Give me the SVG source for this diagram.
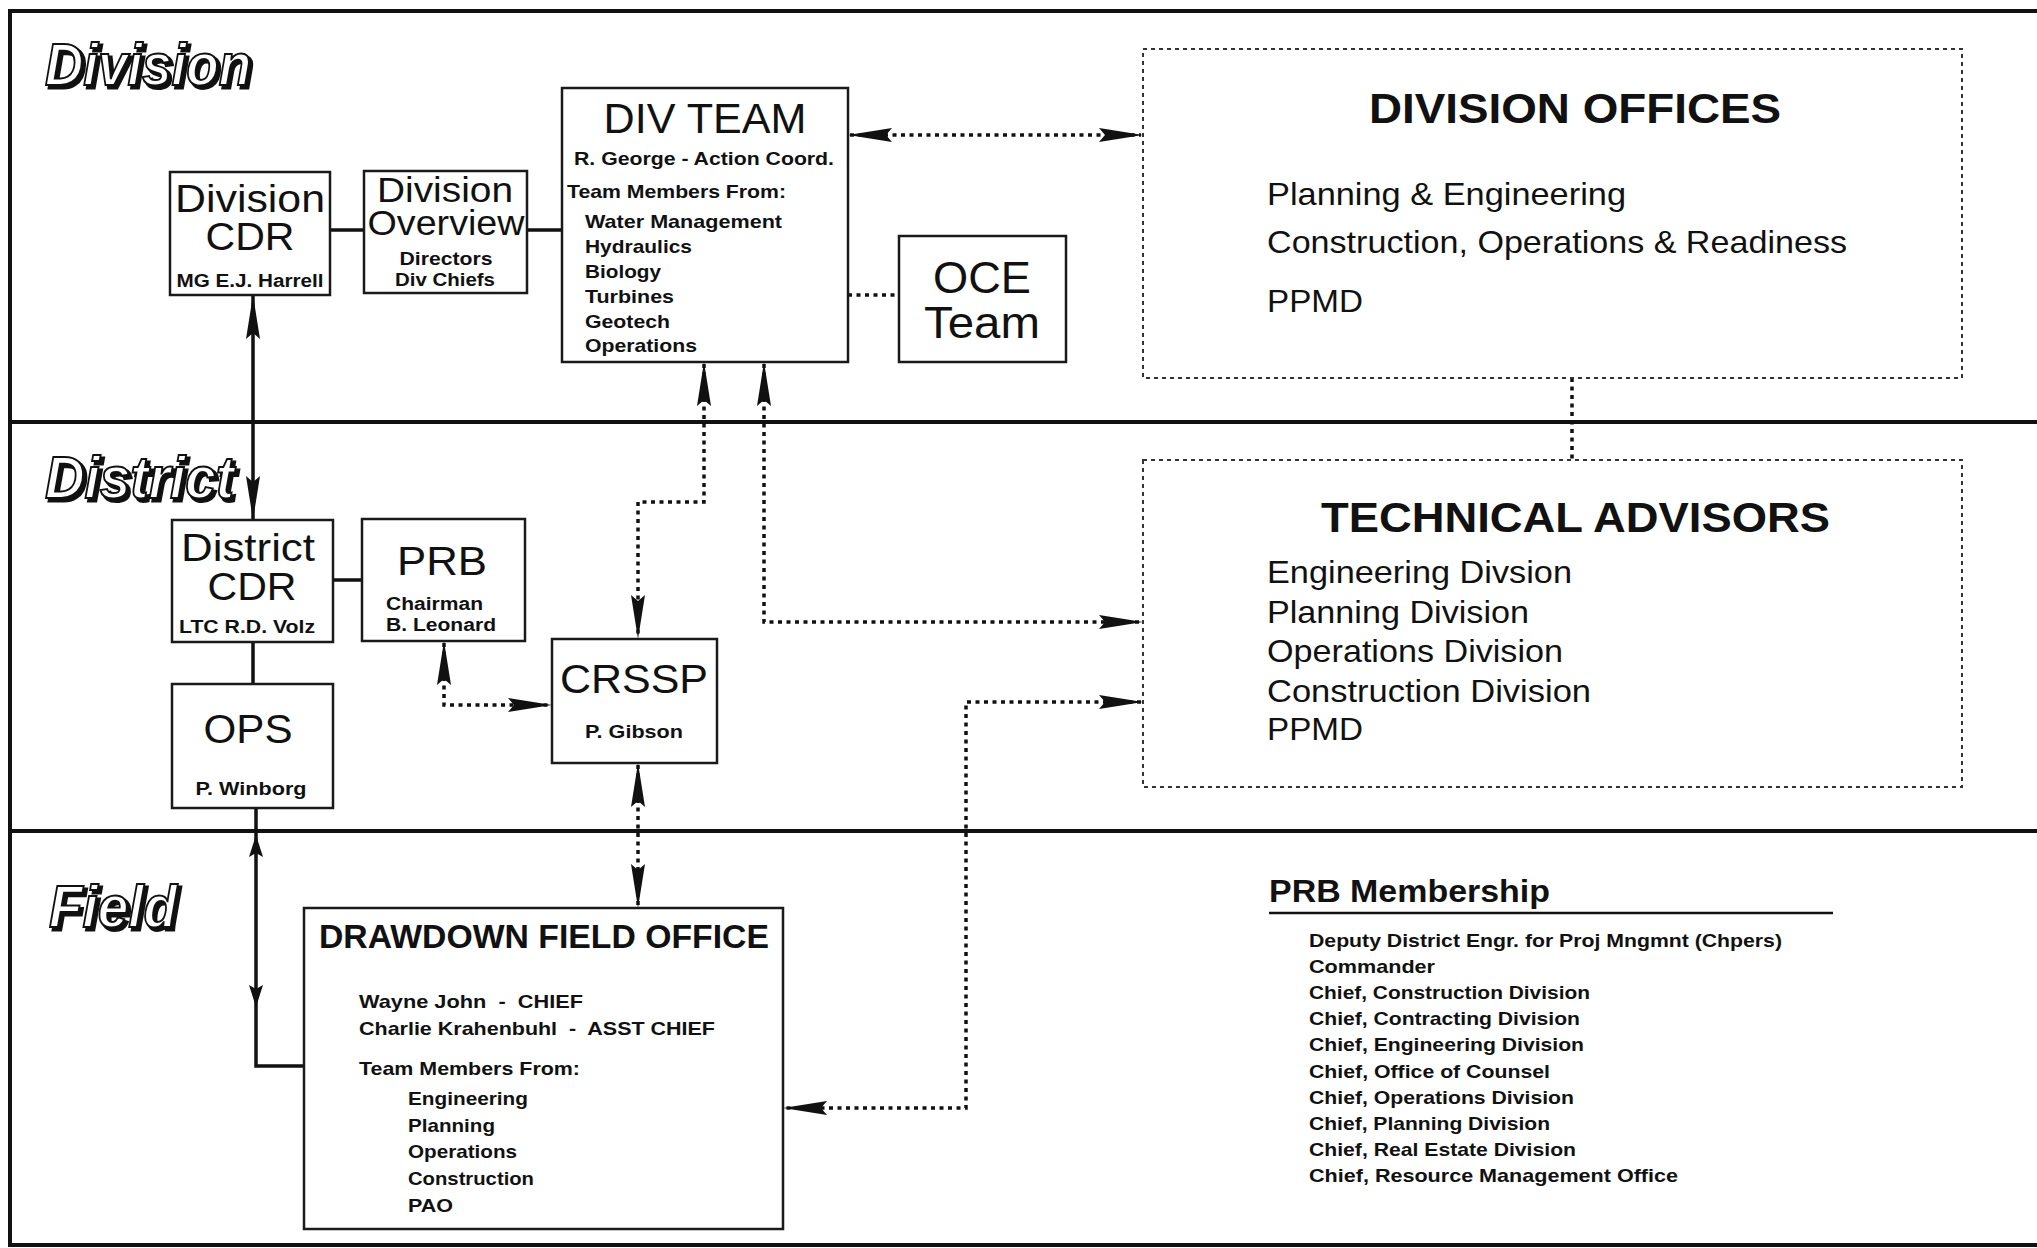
<svg xmlns="http://www.w3.org/2000/svg" width="2037" height="1248" viewBox="0 0 2037 1248">
<style>
text{font-family:"Liberation Sans",Arial,sans-serif;fill:#111}
.box{fill:#fff;stroke:#1a1a1a;stroke-width:2.5}
.dbox{fill:#fff;stroke:#333;stroke-width:2;stroke-dasharray:4 4}
.frame{stroke:#111;stroke-width:4;fill:none}
.solid{stroke:#111;stroke-width:3.5;fill:none}
.dot{stroke:#111;stroke-width:3.5;fill:none;stroke-dasharray:4 4.5}
.lane{font-weight:bold;font-style:italic;font-size:60px;fill:#fff;stroke:#111;stroke-width:2}
.lanesh{font-weight:bold;font-style:italic;font-size:60px;fill:#111;stroke:#111;stroke-width:3}
.big{font-size:38px}
.big2{font-size:35px}
.sm{font-size:18px;font-weight:bold}
.li{font-size:19px;font-weight:bold}
.mid{font-size:32px}
.ttl{font-size:42px;font-weight:bold}
.ah{fill:#111}
</style>
<defs>
<path id="ah" d="M0,0 L-44,-7 L-38,0 L-44,7 Z"/>
<path id="ahs" d="M0,0 L-22,-7 L-18,0 L-22,7 Z"/>
</defs>
<rect width="2037" height="1248" fill="#fff"/>
<g id="frame">
<line class="frame" x1="8" y1="11" x2="2037" y2="11"/>
<line class="frame" x1="10" y1="11" x2="10" y2="1246"/>
<line class="frame" x1="8" y1="1245" x2="2037" y2="1245"/>
<line class="frame" x1="10" y1="422" x2="2037" y2="422"/>
<line class="frame" x1="10" y1="831" x2="2037" y2="831"/>
</g>
<g id="lane-labels">
<text class="lanesh" x="48" y="88" textLength="206" lengthAdjust="spacingAndGlyphs">Division</text>
<text class="lane" x="45" y="85" textLength="206" lengthAdjust="spacingAndGlyphs">Division</text>
<text class="lanesh" x="48" y="501" textLength="189" lengthAdjust="spacingAndGlyphs">District</text>
<text class="lane" x="45" y="498" textLength="189" lengthAdjust="spacingAndGlyphs">District</text>
<text class="lanesh" x="52" y="930" textLength="128" lengthAdjust="spacingAndGlyphs">Field</text>
<text class="lane" x="49" y="927" textLength="128" lengthAdjust="spacingAndGlyphs">Field</text>
</g>
<g id="connectors">
<line class="solid" x1="330" y1="230" x2="364" y2="230"/>
<line class="solid" x1="527" y1="230" x2="562" y2="230"/>
<line class="dot" x1="848" y1="295" x2="899" y2="295"/>
<line class="dot" x1="850" y1="135" x2="1141" y2="135"/>
<use href="#ah" class="ah" transform="translate(848,135) rotate(180)"/>
<use href="#ah" class="ah" transform="translate(1143,135)"/>
<line class="dot" x1="1572" y1="378" x2="1572" y2="460"/>
<line class="solid" x1="253" y1="295" x2="253" y2="520"/>
<use href="#ah" class="ah" transform="translate(253,295) rotate(-90)"/>
<use href="#ah" class="ah" transform="translate(253,520) rotate(90)"/>
<line class="solid" x1="333" y1="580" x2="362" y2="580"/>
<line class="solid" x1="253" y1="642" x2="253" y2="684"/>
<path class="solid" d="M256,808 V1066 H304"/>
<use href="#ahs" class="ah" transform="translate(256,835) rotate(-90)"/>
<use href="#ahs" class="ah" transform="translate(256,1007) rotate(90)"/>
<path class="dot" d="M704,364 V502 H638 V637"/>
<use href="#ah" class="ah" transform="translate(704,362) rotate(-90)"/>
<use href="#ah" class="ah" transform="translate(638,639) rotate(90)"/>
<path class="dot" d="M764,364 V622 H1141"/>
<use href="#ah" class="ah" transform="translate(764,362) rotate(-90)"/>
<use href="#ah" class="ah" transform="translate(1143,622)"/>
<path class="dot" d="M444,643 V705 H550"/>
<use href="#ah" class="ah" transform="translate(444,641) rotate(-90)"/>
<use href="#ah" class="ah" transform="translate(552,705)"/>
<line class="dot" x1="638" y1="765" x2="638" y2="906"/>
<use href="#ah" class="ah" transform="translate(638,763) rotate(-90)"/>
<use href="#ah" class="ah" transform="translate(638,908) rotate(90)"/>
<path class="dot" d="M1141,702 H966 V1108 H785"/>
<use href="#ah" class="ah" transform="translate(1143,702)"/>
<use href="#ah" class="ah" transform="translate(783,1108) rotate(180)"/>
</g>
<g id="division-cdr">
<rect class="box" x="170" y="172" width="160" height="123"/>
<text class="big" x="250" y="212" text-anchor="middle" textLength="150" lengthAdjust="spacingAndGlyphs">Division</text>
<text class="big" x="250" y="250" text-anchor="middle" textLength="89" lengthAdjust="spacingAndGlyphs">CDR</text>
<text class="sm" x="250" y="287" text-anchor="middle" textLength="147" lengthAdjust="spacingAndGlyphs">MG E.J. Harrell</text>
</g>
<g id="division-overview">
<rect class="box" x="364" y="171" width="163" height="122"/>
<text class="big2" x="445" y="202" text-anchor="middle" textLength="136" lengthAdjust="spacingAndGlyphs">Division</text>
<text class="big2" x="446" y="235" text-anchor="middle" textLength="157" lengthAdjust="spacingAndGlyphs">Overview</text>
<text class="sm" x="446" y="265" text-anchor="middle" textLength="93" lengthAdjust="spacingAndGlyphs">Directors</text>
<text class="sm" x="445" y="286" text-anchor="middle" textLength="100" lengthAdjust="spacingAndGlyphs">Div Chiefs</text>
</g>
<g id="div-team">
<rect class="box" x="562" y="88" width="286" height="274"/>
<text x="705" y="133" font-size="43" text-anchor="middle" textLength="203" lengthAdjust="spacingAndGlyphs">DIV TEAM</text>
<text class="li" x="704" y="165" text-anchor="middle" textLength="260" lengthAdjust="spacingAndGlyphs">R. George - Action Coord.</text>
<text class="li" x="567" y="198" textLength="219" lengthAdjust="spacingAndGlyphs">Team Members From:</text>
<text class="li" x="585" y="228" textLength="197" lengthAdjust="spacingAndGlyphs">Water Management</text>
<text class="li" x="585" y="253" textLength="107" lengthAdjust="spacingAndGlyphs">Hydraulics</text>
<text class="li" x="585" y="278" textLength="76" lengthAdjust="spacingAndGlyphs">Biology</text>
<text class="li" x="585" y="303" textLength="89" lengthAdjust="spacingAndGlyphs">Turbines</text>
<text class="li" x="585" y="328" textLength="85" lengthAdjust="spacingAndGlyphs">Geotech</text>
<text class="li" x="585" y="352" textLength="112" lengthAdjust="spacingAndGlyphs">Operations</text>
</g>
<g id="oce-team">
<rect class="box" x="899" y="236" width="167" height="126"/>
<text x="982" y="293" font-size="44" text-anchor="middle" textLength="98" lengthAdjust="spacingAndGlyphs">OCE</text>
<text x="982" y="338" font-size="44" text-anchor="middle" textLength="116" lengthAdjust="spacingAndGlyphs">Team</text>
</g>
<g id="division-offices">
<rect class="dbox" x="1143" y="49" width="819" height="329"/>
<text class="ttl" x="1369" y="123" textLength="412" lengthAdjust="spacingAndGlyphs">DIVISION OFFICES</text>
<text class="mid" x="1267" y="205" textLength="359" lengthAdjust="spacingAndGlyphs">Planning &amp; Engineering</text>
<text class="mid" x="1267" y="253" textLength="580" lengthAdjust="spacingAndGlyphs">Construction, Operations &amp; Readiness</text>
<text class="mid" x="1267" y="312" textLength="96" lengthAdjust="spacingAndGlyphs">PPMD</text>
</g>
<g id="technical-advisors">
<rect class="dbox" x="1143" y="460" width="819" height="327"/>
<text class="ttl" x="1321" y="532" textLength="509" lengthAdjust="spacingAndGlyphs">TECHNICAL ADVISORS</text>
<text class="mid" x="1267" y="583" textLength="305" lengthAdjust="spacingAndGlyphs">Engineering Divsion</text>
<text class="mid" x="1267" y="623" textLength="262" lengthAdjust="spacingAndGlyphs">Planning Division</text>
<text class="mid" x="1267" y="662" textLength="296" lengthAdjust="spacingAndGlyphs">Operations Division</text>
<text class="mid" x="1267" y="702" textLength="324" lengthAdjust="spacingAndGlyphs">Construction Division</text>
<text class="mid" x="1267" y="740" textLength="96" lengthAdjust="spacingAndGlyphs">PPMD</text>
</g>
<g id="district-cdr">
<rect class="box" x="172" y="520" width="161" height="122"/>
<text class="big" x="248" y="561" text-anchor="middle" textLength="134" lengthAdjust="spacingAndGlyphs">District</text>
<text class="big" x="252" y="600" text-anchor="middle" textLength="89" lengthAdjust="spacingAndGlyphs">CDR</text>
<text class="sm" x="247" y="633" text-anchor="middle" textLength="136" lengthAdjust="spacingAndGlyphs">LTC R.D. Volz</text>
</g>
<g id="prb">
<rect class="box" x="362" y="519" width="163" height="122"/>
<text x="442" y="575" font-size="41" text-anchor="middle" textLength="90" lengthAdjust="spacingAndGlyphs">PRB</text>
<text class="sm" x="386" y="610" textLength="97" lengthAdjust="spacingAndGlyphs">Chairman</text>
<text class="sm" x="386" y="631" textLength="110" lengthAdjust="spacingAndGlyphs">B. Leonard</text>
</g>
<g id="ops">
<rect class="box" x="172" y="684" width="161" height="124"/>
<text x="248" y="743" font-size="41" text-anchor="middle" textLength="89" lengthAdjust="spacingAndGlyphs">OPS</text>
<text class="sm" x="251" y="795" text-anchor="middle" textLength="111" lengthAdjust="spacingAndGlyphs">P. Winborg</text>
</g>
<g id="crssp">
<rect class="box" x="552" y="639" width="165" height="124"/>
<text x="634" y="693" font-size="41" text-anchor="middle" textLength="148" lengthAdjust="spacingAndGlyphs">CRSSP</text>
<text class="sm" x="634" y="738" text-anchor="middle" textLength="98" lengthAdjust="spacingAndGlyphs">P. Gibson</text>
</g>
<g id="drawdown-field-office">
<rect class="box" x="304" y="908" width="479" height="321"/>
<text x="319" y="948" font-size="33" font-weight="bold" textLength="450" lengthAdjust="spacingAndGlyphs">DRAWDOWN FIELD OFFICE</text>
<text class="li" x="359" y="1008" xml:space="preserve" textLength="224" lengthAdjust="spacingAndGlyphs">Wayne John  -  CHIEF</text>
<text class="li" x="359" y="1035" xml:space="preserve" textLength="356" lengthAdjust="spacingAndGlyphs">Charlie Krahenbuhl  -  ASST CHIEF</text>
<text class="li" x="359" y="1075" textLength="221" lengthAdjust="spacingAndGlyphs">Team Members From:</text>
<text class="li" x="408" y="1105" textLength="120" lengthAdjust="spacingAndGlyphs">Engineering</text>
<text class="li" x="408" y="1132" textLength="87" lengthAdjust="spacingAndGlyphs">Planning</text>
<text class="li" x="408" y="1158" textLength="109" lengthAdjust="spacingAndGlyphs">Operations</text>
<text class="li" x="408" y="1185" textLength="126" lengthAdjust="spacingAndGlyphs">Construction</text>
<text class="li" x="408" y="1212" textLength="45" lengthAdjust="spacingAndGlyphs">PAO</text>
</g>
<g id="prb-membership">
<text x="1269" y="902" font-size="32" font-weight="bold" textLength="281" lengthAdjust="spacingAndGlyphs">PRB Membership</text>
<line x1="1269" y1="913" x2="1833" y2="913" stroke="#111" stroke-width="2.5"/>
<text class="li" x="1309" y="947" textLength="473" lengthAdjust="spacingAndGlyphs">Deputy District Engr. for Proj Mngmnt (Chpers)</text>
<text class="li" x="1309" y="973" textLength="126" lengthAdjust="spacingAndGlyphs">Commander</text>
<text class="li" x="1309" y="999" textLength="281" lengthAdjust="spacingAndGlyphs">Chief, Construction Division</text>
<text class="li" x="1309" y="1025" textLength="271" lengthAdjust="spacingAndGlyphs">Chief, Contracting Division</text>
<text class="li" x="1309" y="1051" textLength="275" lengthAdjust="spacingAndGlyphs">Chief, Engineering Division</text>
<text class="li" x="1309" y="1078" textLength="241" lengthAdjust="spacingAndGlyphs">Chief, Office of Counsel</text>
<text class="li" x="1309" y="1104" textLength="265" lengthAdjust="spacingAndGlyphs">Chief, Operations Division</text>
<text class="li" x="1309" y="1130" textLength="241" lengthAdjust="spacingAndGlyphs">Chief, Planning Division</text>
<text class="li" x="1309" y="1156" textLength="267" lengthAdjust="spacingAndGlyphs">Chief, Real Estate Division</text>
<text class="li" x="1309" y="1182" textLength="369" lengthAdjust="spacingAndGlyphs">Chief, Resource Management Office</text>
</g>
</svg>
